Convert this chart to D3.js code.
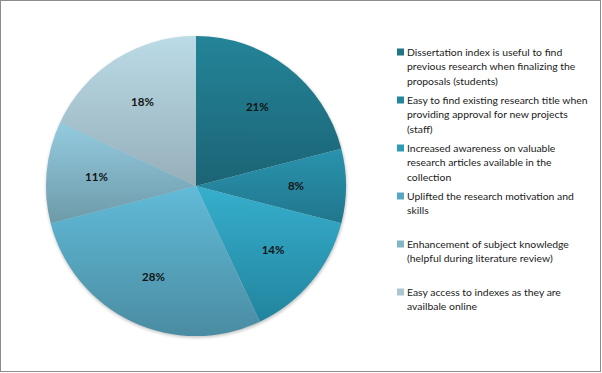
<!DOCTYPE html>
<html>
<head>
<meta charset="utf-8">
<script src="https://cdn.jsdelivr.net/npm/d3@7"></script>
<style>
  html, body { margin: 0; padding: 0; background: #fff; }
  svg { display: block; }
</style>
</head>
<body>
<script>
// ---- data ----
const categories = [
  "Dissertation index is useful to find previous research when finalizing the proposals (students)",
  "Easy to find existing research title when providing approval for new projects (staff)",
  "Increased awareness on valuable research articles available in the collection",
  "Uplifted the research motivation and skills",
  "Enhancement of subject knowledge (helpful during literature review)",
  "Easy access to indexes as they are availbale online"
];
const legendLines = [
  ["Dissertation index is useful to find", "previous research when finalizing the", "proposals (students)"],
  ["Easy to find existing research title when", "providing approval for new projects", "(staff)"],
  ["Increased awareness on valuable", "research articles available in the", "collection"],
  ["Uplifted the research motivation and", "skills"],
  ["Enhancement of subject knowledge", "(helpful during literature review)"],
  ["Easy access to indexes as they are", "availbale online"]
];
const values = [21, 8, 14, 28, 11, 18];
const topColors = ["#248498", "#2A93AE", "#36AFCD", "#61BBD8", "#94CBDF", "#BBDBE6"];
const bottomColors = ["#1B6475", "#20778D", "#22849E", "#4A8CA2", "#6D9AA9", "#95AFB9"];
const legendColors = ["#1F7488", "#25869F", "#2D9CB9", "#57A7C3", "#82B5C6", "#ABC6D0"];

const W = 602, H = 373;
const svg = d3.select("body").append("svg").attr("width", W).attr("height", H);

// frame
svg.append("rect").attr("x", 0.5).attr("y", 0.5).attr("width", 600).attr("height", 371)
  .attr("fill", "#fff").attr("stroke", "#8c8c8c").attr("stroke-width", 1);

const defs = svg.append("defs");
values.forEach((v, i) => {
  const g = defs.append("linearGradient").attr("id", "g" + i)
    .attr("x1", 0).attr("y1", 0).attr("x2", 0).attr("y2", 1);
  g.append("stop").attr("offset", "0%").attr("stop-color", topColors[i]);
  g.append("stop").attr("offset", "100%").attr("stop-color", bottomColors[i]);
});
const f = defs.append("filter").attr("id", "sh").attr("x", "-10%").attr("y", "-10%").attr("width", "120%").attr("height", "120%");
f.append("feGaussianBlur").attr("stdDeviation", 1.6);

const cx = 196, cy = 186, R = 150;
const pie = d3.pie().sort(null).value(d => d);
const arcs = pie(values);
const arc = d3.arc().innerRadius(0).outerRadius(R);
const labelArc = d3.arc().innerRadius(100).outerRadius(100);

const g = svg.append("g").attr("transform", `translate(${cx},${cy})`);
// soft shadow
g.append("circle").attr("cx", 0.5).attr("cy", 1.5).attr("r", R + 0.5)
  .attr("fill", "#9a9a9a").attr("opacity", 0.55).attr("filter", "url(#sh)");

g.selectAll("path.slice").data(arcs).enter().append("path")
  .attr("class", "slice")
  .attr("d", arc)
  .attr("fill", (d, i) => `url(#g${i})`);

g.selectAll("text.lbl").data(arcs).enter().append("text")
  .attr("class", "lbl")
  .attr("transform", d => `translate(${labelArc.centroid(d)})`)
  .attr("text-anchor", "middle")
  .attr("dy", "0.35em")
  .attr("font-family", "Lato, 'Liberation Sans', Arial, sans-serif")
  .attr("font-weight", "bold")
  .attr("font-size", "11.5px")
  .attr("fill", "#141414")
  .text(d => d.data + "%");

// legend
const lx = 397, ly0 = 52, step = 48, lineH = 14.5;
const leg = svg.append("g");
legendLines.forEach((lines, i) => {
  const y = ly0 + i * step;
  leg.append("rect").attr("x", lx).attr("y", y - 3.5).attr("width", 7).attr("height", 7)
    .attr("fill", legendColors[i]);
  const t = leg.append("text")
    .attr("x", lx + 10).attr("y", y)
    .attr("font-family", "Lato, 'Liberation Sans', sans-serif")
    .attr("font-size", "10.4px")
    .attr("fill", "#1a1a1a");
  lines.forEach((ln, j) => {
    t.append("tspan").attr("x", lx + 10).attr("y", y + j * lineH).attr("dy", "0.35em").text(ln);
  });
});
</script>
</body>
</html>
